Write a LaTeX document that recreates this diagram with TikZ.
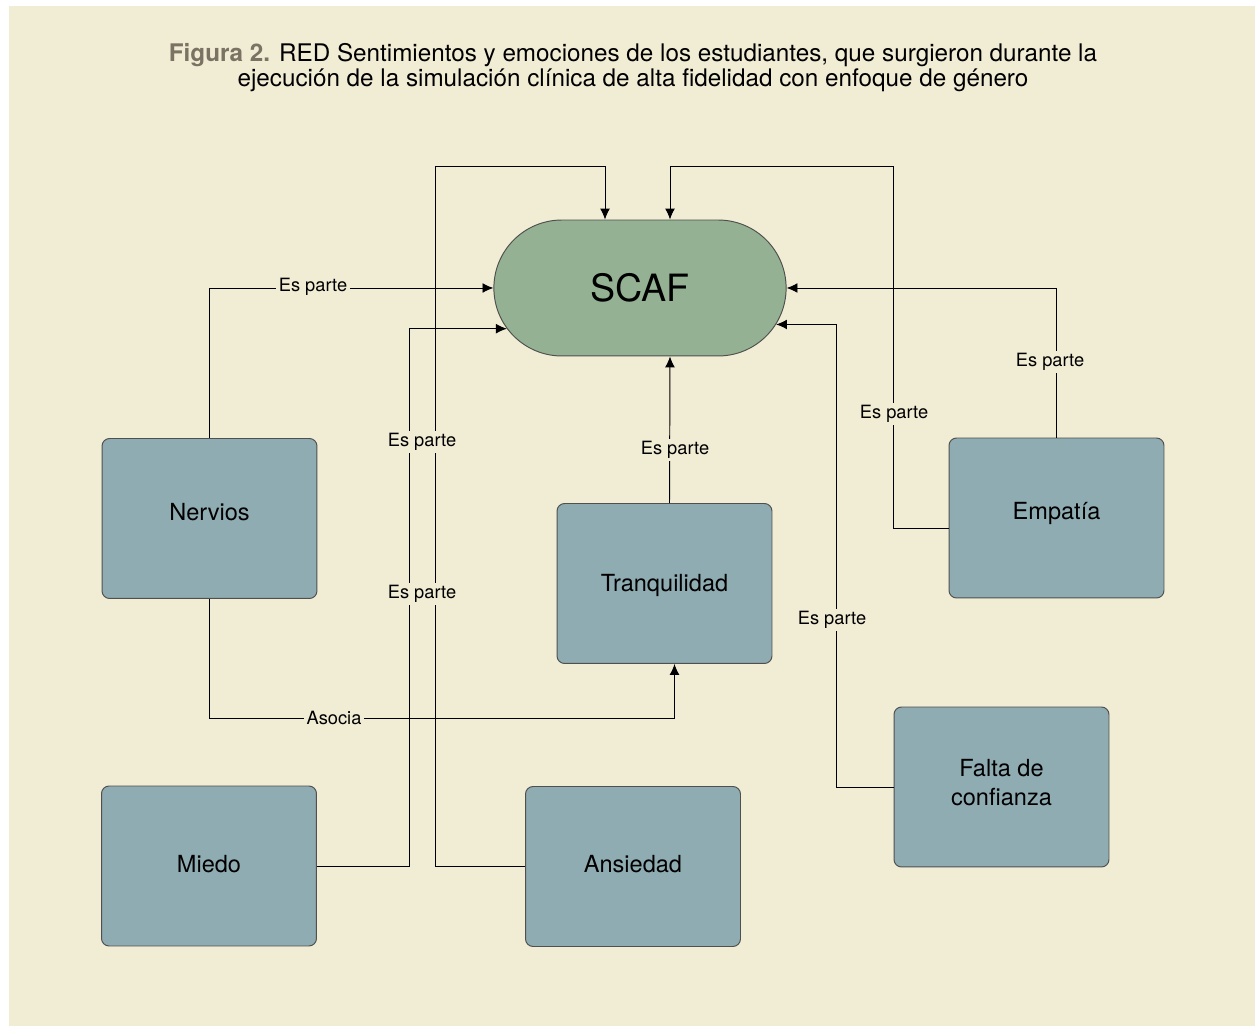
\documentclass[tikz,border=0pt]{standalone}
\usepackage{fontspec}
\setmainfont{TeX Gyre Heros}
\usetikzlibrary{shapes.misc,arrows.meta}
\definecolor{paper}{HTML}{F1ECD4}
\definecolor{boxfill}{HTML}{8FACB2}
\definecolor{scaffill}{HTML}{94B293}
\definecolor{edgegray}{HTML}{505050}
\definecolor{figgray}{HTML}{7A7262}
\begin{document}
\begin{tikzpicture}[
		x=0.02cm, y=-0.02cm,
		emotion/.style={rectangle, rounded corners=0.15cm, draw=edgegray, fill=boxfill, minimum width=4.3cm, minimum height=3.2cm, align=center, font=\fontsize{13.4}{16.5}\selectfont},
		core/.style={rounded rectangle, draw=edgegray, fill=scaffill, minimum width=6.08cm, minimum height=2.72cm, font=\fontsize{21.4}{24}\selectfont},
		rel/.style={fill=paper, inner sep=1.5pt, font=\fontsize{10.4}{12}\selectfont},
		link/.style={->},
		every path/.style={line width=0.55pt, >={Latex[length=6.2pt,width=5.6pt]}},
		]
		\useasboundingbox (0,0) rectangle (1255,1026);
		\fill[paper] (9,6) rectangle (1265,1036);
		\node[align=center, font=\fontsize{13.8}{14.2}\selectfont] (title) at (633,68) {\textcolor{figgray}{\textbf{Figura 2.}} RED Sentimientos y emociones de los estudiantes, que surgieron durante la\\ ejecución de la simulación clínica de alta fidelidad con enfoque de género};
		\node[core] (scaf) at (640,288) {SCAF};
		\node[emotion] (nervios) at (209.5,518.5) {\raisebox{3.4pt}[\height][\depth]{Nervios}};
		\node[emotion] (tranq) at (664.5,583.5) {\raisebox{-1pt}[\height][\depth]{Tranquilidad}};
		\node[emotion] (empatia) at (1056.5,518) {\raisebox{2.3pt}[\height][\depth]{Empatía}};
		\node[emotion] (falta) at (1001.5,787) {\raisebox{2.3pt}[\height][\depth]{Falta de}\\\raisebox{2.3pt}[\height][\depth]{confianza}};
		\node[emotion] (miedo) at (209,866) {\raisebox{1.1pt}[\height][\depth]{Miedo}};
		\node[emotion] (ansiedad) at (633,866.5) {\raisebox{1.1pt}[\height][\depth]{Ansiedad}};
		\draw[link] (nervios.north) |- (scaf.west);
		\draw[link] (miedo.east) -- ++(93,0) |- (scaf.197);
		\draw[link] (ansiedad.west) -- ++(-90,0) -- ++(0,-700) -| ([xshift=-0.7cm]scaf.north);
		\draw[link] ([xshift=0.1cm]tranq.north) -- ([xshift=0.6cm]scaf.south);
		\draw[link] (nervios.south) -- ++(0,120) -| ([xshift=0.2cm]tranq.south);
		\draw[link] (empatia.north) |- (scaf.east);
		\draw[link] ([yshift=-0.2cm]empatia.west) -- ++(-55,0) -- ++(0,-362) -| ([xshift=0.6cm]scaf.north);
		\draw[link] (falta.west) -- ++(-57,0) |- (scaf.345);
		% relation labels
		\node[rel] (lnervios) at (313,287) {Es parte};
		\node[rel] (lansiedad) at (422,442) {Es parte};
		\node[rel] (lmiedo) at (422,594) {Es parte};
		\node[rel] (ltranq) at (675,450) {Es parte};
		\node[rel] (lasocia) at (334,718) {Asocia};
		\node[rel] (lempatia) at (1050,362) {Es parte};
		\node[rel] (lempatiab) at (894,414) {Es parte};
		\node[rel] (lfalta) at (832,620) {Es parte};
	\end{tikzpicture}
\end{document}
